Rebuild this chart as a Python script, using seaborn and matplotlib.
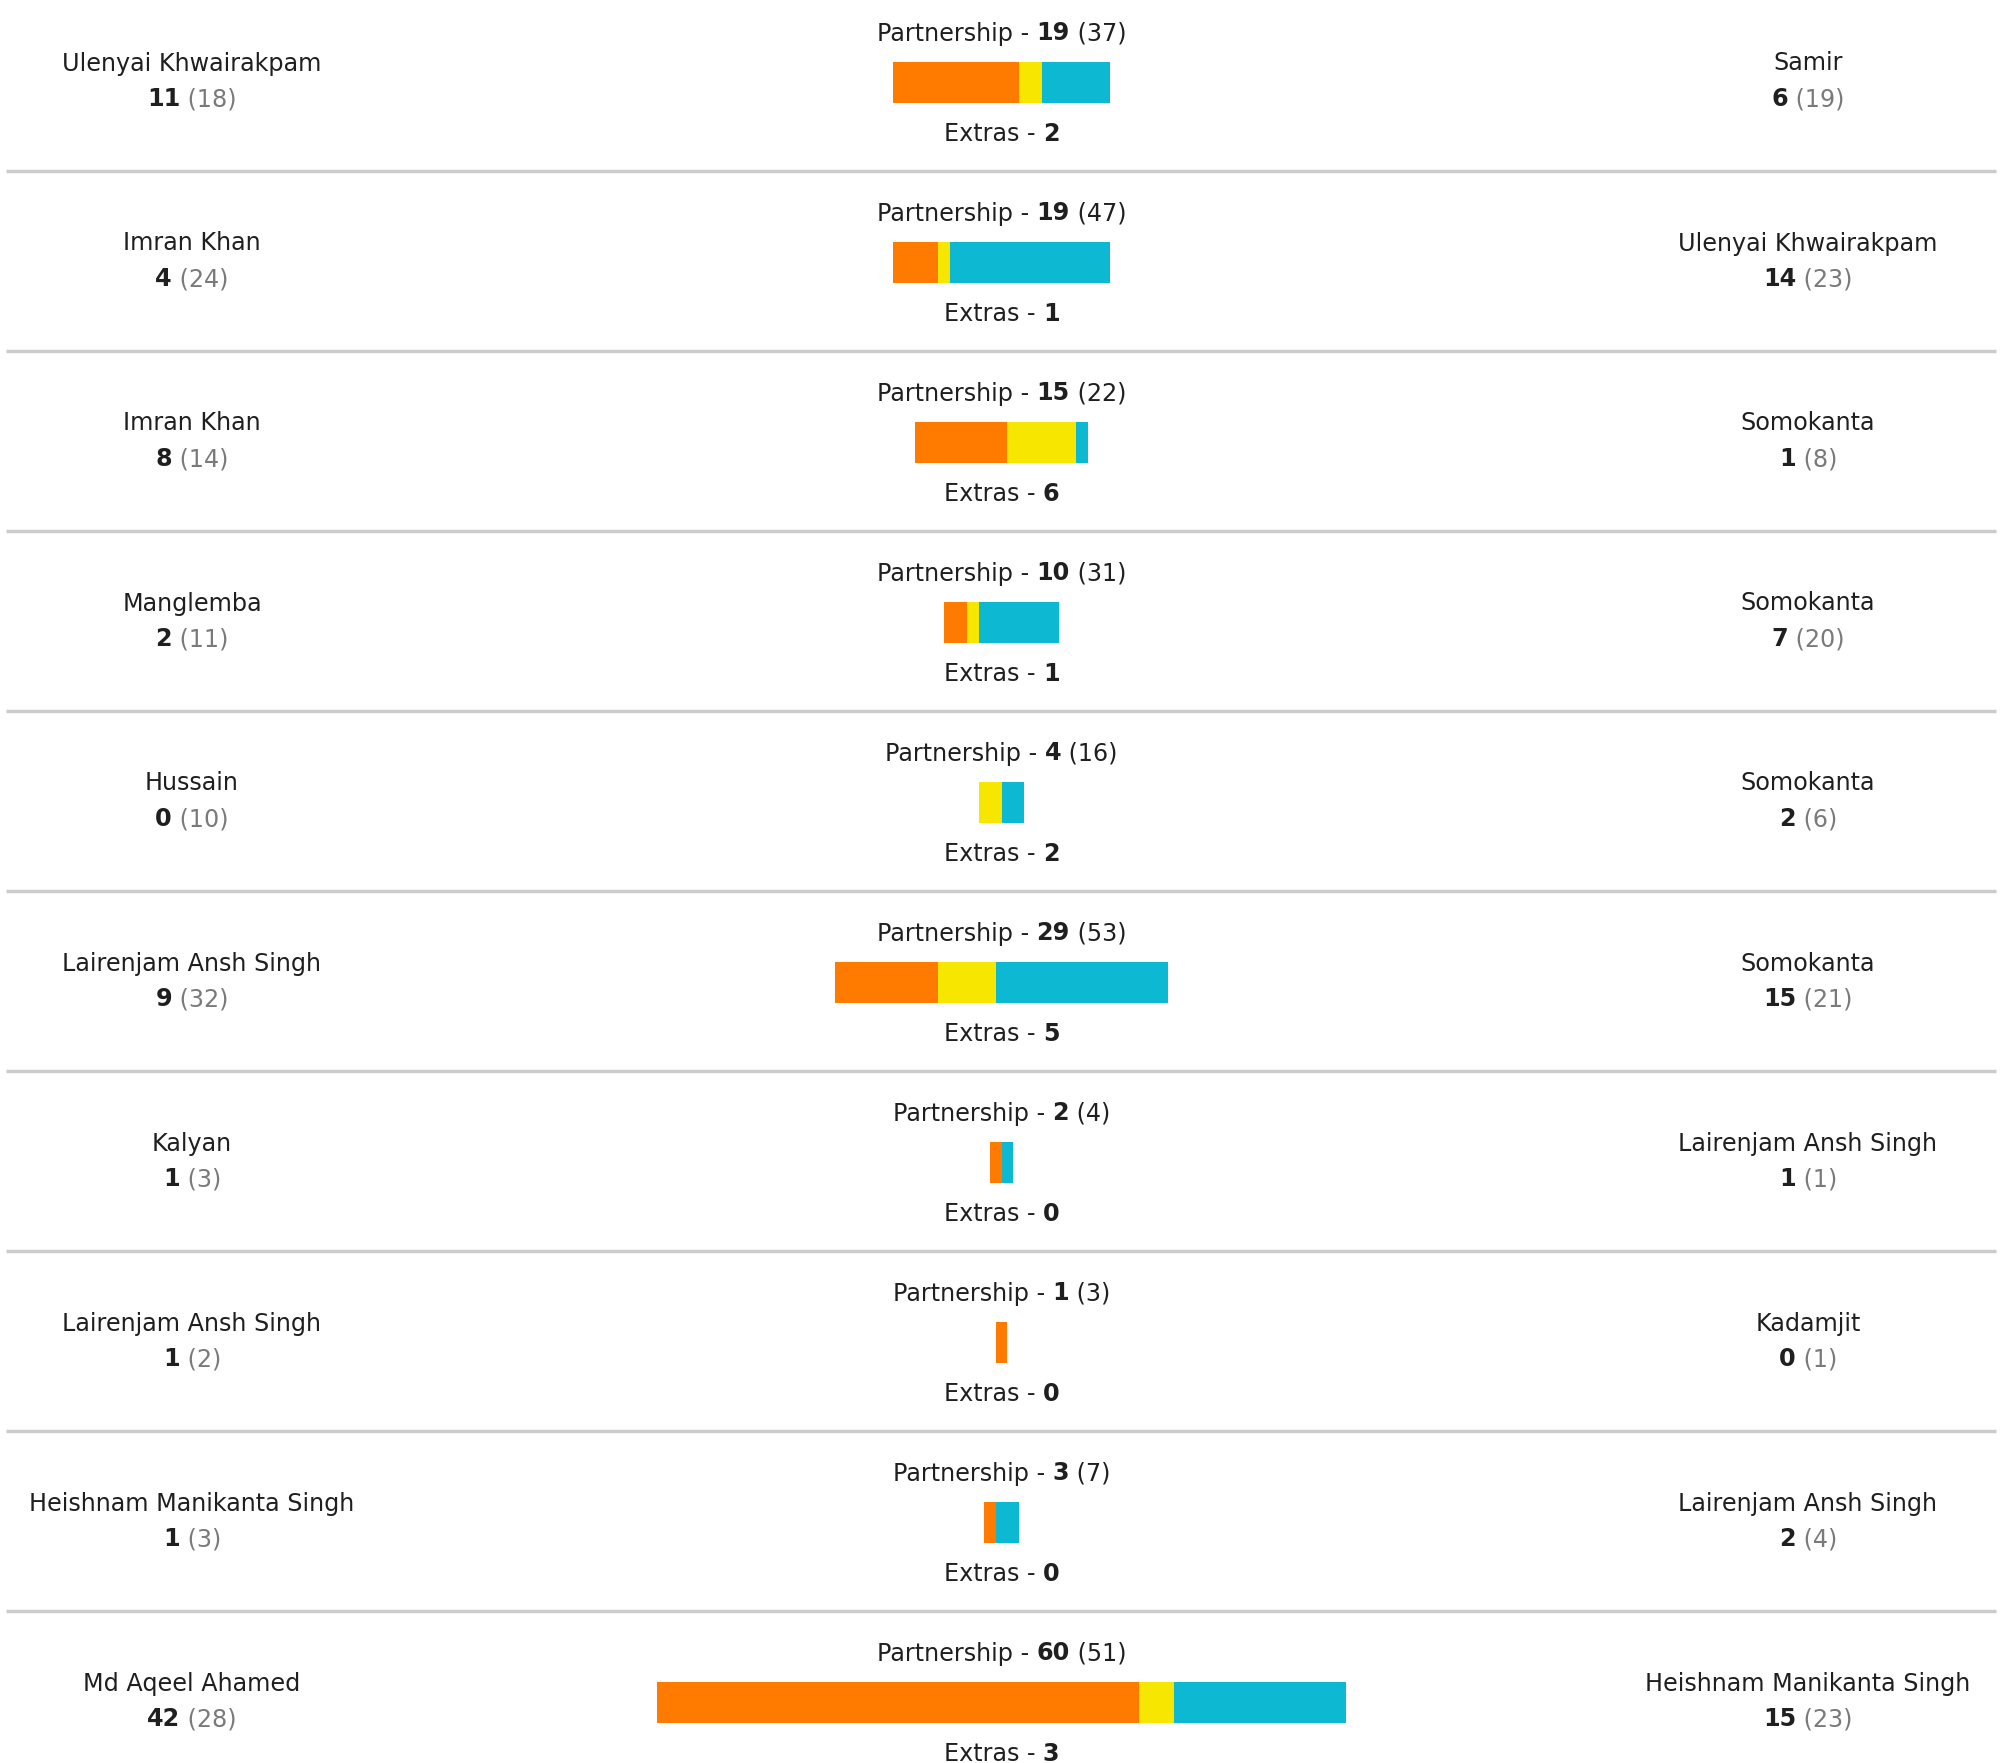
import matplotlib
matplotlib.use("Agg")
import matplotlib.pyplot as plt
import seaborn as sns
import numpy as np
from matplotlib.offsetbox import TextArea, HPacker, AnnotationBbox

# ---------------- data ----------------
left_names = ["Ulenyai Khwairakpam", "Imran Khan", "Imran Khan", "Manglemba", "Hussain",
              "Lairenjam Ansh Singh", "Kalyan", "Lairenjam Ansh Singh",
              "Heishnam Manikanta Singh", "Md Aqeel Ahamed"]
left_runs = [11, 4, 8, 2, 0, 9, 1, 1, 1, 42]
left_balls = [18, 24, 14, 11, 10, 32, 3, 2, 3, 28]
right_names = ["Samir", "Ulenyai Khwairakpam", "Somokanta", "Somokanta", "Somokanta",
               "Somokanta", "Lairenjam Ansh Singh", "Kadamjit", "Lairenjam Ansh Singh",
               "Heishnam Manikanta Singh"]
right_runs = [6, 14, 1, 7, 2, 15, 1, 0, 2, 15]
right_balls = [19, 23, 8, 20, 6, 21, 1, 1, 4, 23]
partner_runs = [19, 19, 15, 10, 4, 29, 2, 1, 3, 60]
partner_balls = [37, 47, 22, 31, 16, 53, 4, 3, 7, 51]
extras = [2, 1, 6, 1, 2, 5, 0, 0, 0, 3]

# ---------------- style ----------------
ORANGE = "#FF7B00"
YELLOW = "#F7E700"
CYAN = "#0DB8D2"
DARK = "#1f1f1f"
GREY = "#7a7a7a"
SEP = "#cccccc"
FS = 17.2

sns.set_theme(style="white")
plt.rcParams['font.family'] = ['DejaVu Sans']

W, H = 2003, 1763
fig = plt.figure(figsize=(W / 100, H / 100), dpi=100)
ax = fig.add_axes([0, 0, 1, 1])
px_per_run = 11.47
half = (W / 2) / px_per_run
ax.set_xlim(-half, half)
row_px = 180.0
ax.set_ylim((H - 82.5) / row_px, -82.5 / row_px)
ax.axis('off')

n = len(left_names)
y = np.arange(n)
lr = np.array(left_runs, dtype=float)
rr = np.array(right_runs, dtype=float)
ex = np.array(extras, dtype=float)
tot = lr + rr + ex
starts = -tot / 2
bar_h = 41 / row_px

ax.barh(y, lr, left=starts, height=bar_h, color=ORANGE, linewidth=0)
ax.barh(y, ex, left=starts + lr, height=bar_h, color=YELLOW, linewidth=0)
ax.barh(y, rr, left=starts + lr + ex, height=bar_h, color=CYAN, linewidth=0)

# separators
for k in range(n - 1):
    ax.hlines(k + 88.5 / row_px, 6 / W, 1996 / W, transform=ax.get_yaxis_transform(),
              color=SEP, linewidth=2.5)


def rich(x, yy, parts, coords):
    children = [TextArea(s, textprops=dict(fontsize=FS, color=c, fontweight=w,
                                           family='DejaVu Sans'))
                for s, c, w in parts]
    box = HPacker(children=children, align="baseline", pad=0, sep=0)
    ab = AnnotationBbox(box, (x, yy), xycoords=coords, frameon=False,
                        box_alignment=(0.5, 0.5), pad=0)
    ax.add_artist(ab)


yt = ax.get_yaxis_transform()
LX = 192 / W
RX = 1808 / W
dy = 2.5
for k in range(n):
    # center texts
    rich(0, k + (-51.5 + dy) / row_px,
         [("Partnership - ", DARK, "normal"), (str(partner_runs[k]), DARK, "bold"),
          (f" ({partner_balls[k]})", DARK, "normal")], "data")
    rich(0, k + (49 + dy) / row_px,
         [("Extras - ", DARK, "normal"), (str(extras[k]), DARK, "bold")], "data")
    # left batter
    rich(LX, k + (-21.5 + dy) / row_px, [(left_names[k], DARK, "normal")], yt)
    rich(LX, k + (14.5 + dy) / row_px,
         [(str(left_runs[k]), DARK, "bold"), (f" ({left_balls[k]})", GREY, "normal")], yt)
    # right batter
    rich(RX, k + (-21.5 + dy) / row_px, [(right_names[k], DARK, "normal")], yt)
    rich(RX, k + (14.5 + dy) / row_px,
         [(str(right_runs[k]), DARK, "bold"), (f" ({right_balls[k]})", GREY, "normal")], yt)

fig.savefig("out.png", dpi=100, facecolor="white")
